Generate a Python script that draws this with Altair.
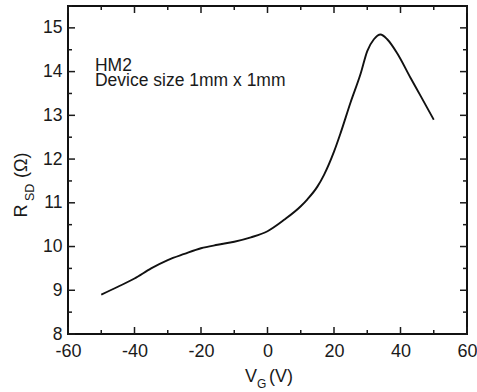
import altair as alt
import pandas as pd

# Data
vg = [-50, -45, -40, -35, -30, -25, -20, -15, -10, -5, 0, 5, 10, 12, 15, 17, 20, 22, 25, 28, 30, 32, 34, 36, 39, 43, 46, 50]
rsd = [8.90, 9.08, 9.27, 9.50, 9.69, 9.83, 9.96, 10.04, 10.11, 10.21, 10.35, 10.61, 10.92, 11.08, 11.37,
       11.64, 12.17, 12.60, 13.30, 13.95, 14.47, 14.74, 14.85, 14.74, 14.42, 13.86, 13.45, 12.90]

x_major = [-60, -40, -20, 0, 20, 40, 60]
x_minor = [-50, -30, -10, 10, 30, 50]
y_major = [8, 9, 10, 11, 12, 13, 14, 15]
y_minor = [8.5, 9.5, 10.5, 11.5, 12.5, 13.5, 14.5, 15.5]

note_x = [-51.9, -51.9]
note_y = [14.02, 13.68]
note_text = ["HM2", "Device size 1mm x 1mm"]

W, H = 399, 328
FONT = "Liberation Sans"
INK = "#1a1a1a"

xscale = alt.Scale(domain=[-60, 60], nice=False, zero=False)
yscale = alt.Scale(domain=[8, 15.5], nice=False, zero=False)

xaxis = alt.Axis(values=x_major, title=None, grid=False, ticks=False, tickSize=0,
                 domain=False, labelFontSize=18, labelPadding=8, labelColor=INK,
                 labelFont=FONT, labelExpr="'' + datum.value", labelFlush=False)
yaxis = alt.Axis(values=y_major, title=None, grid=False, ticks=False, tickSize=0,
                 domain=False, labelFontSize=17.5, labelPadding=6, labelColor=INK,
                 labelFont=FONT, labelExpr="'' + datum.value", labelFlush=False)

df = pd.DataFrame({"vg": vg, "rsd": rsd})

line = alt.Chart(df).mark_line(color="#111111", strokeWidth=1.9, interpolate="monotone").encode(
    x=alt.X("vg:Q", scale=xscale, axis=xaxis),
    y=alt.Y("rsd:Q", scale=yscale, axis=yaxis),
)

layers = [line]

# inward tick marks on all four sides
for vals, ln in [(x_major, 7), (x_minor, 4)]:
    tdf = pd.DataFrame({"v": vals})
    layers.append(alt.Chart(tdf).mark_rule(color=INK, strokeWidth=1.5).encode(
        x=alt.X("v:Q", scale=xscale, axis=xaxis), y=alt.value(H), y2=alt.value(H - ln)))
    layers.append(alt.Chart(tdf).mark_rule(color=INK, strokeWidth=1.5).encode(
        x=alt.X("v:Q", scale=xscale, axis=xaxis), y=alt.value(0), y2=alt.value(ln)))
for vals, ln in [(y_major, 7), (y_minor, 4)]:
    tdf = pd.DataFrame({"v": vals})
    layers.append(alt.Chart(tdf).mark_rule(color=INK, strokeWidth=1.5).encode(
        y=alt.Y("v:Q", scale=yscale, axis=yaxis), x=alt.value(0), x2=alt.value(ln)))
    layers.append(alt.Chart(tdf).mark_rule(color=INK, strokeWidth=1.5).encode(
        y=alt.Y("v:Q", scale=yscale, axis=yaxis), x=alt.value(W), x2=alt.value(W - ln)))

# annotation
ndf = pd.DataFrame({"x": note_x, "y": note_y, "t": note_text})
layers.append(alt.Chart(ndf).mark_text(align="left", baseline="alphabetic", fontSize=17.5,
                                       font=FONT, color=INK).encode(
    x=alt.X("x:Q", scale=xscale, axis=xaxis), y=alt.Y("y:Q", scale=yscale, axis=yaxis), text="t:N"))

# axis titles with subscripts
def label(txt, px, py, size, angle=0):
    return alt.Chart(pd.DataFrame({"t": [txt]})).mark_text(
        align="left", baseline="alphabetic", fontSize=size, font=FONT, color=INK, angle=angle
    ).encode(x=alt.value(px), y=alt.value(py), text="t:N")

layers += [
    label("V", 177, 376, 18),
    label("G", 189, 382, 12),
    label("(V)", 201, 376, 18),
    label("R", -41, 211.5, 18, 270),
    label("SD", -34.5, 195, 12.5, 270),
    label("(Ω)", -41, 172, 18, 270),
]

chart = alt.layer(*layers).properties(
    width=W, height=H,
    background="white",
    autosize=alt.AutoSizeParams(type="none"),
    padding={"left": 68, "top": 6, "right": 10, "bottom": 58},
).configure_view(stroke="#111111", strokeWidth=2)

chart.save("out.html", embed_options={"renderer": "svg", "actions": False})
